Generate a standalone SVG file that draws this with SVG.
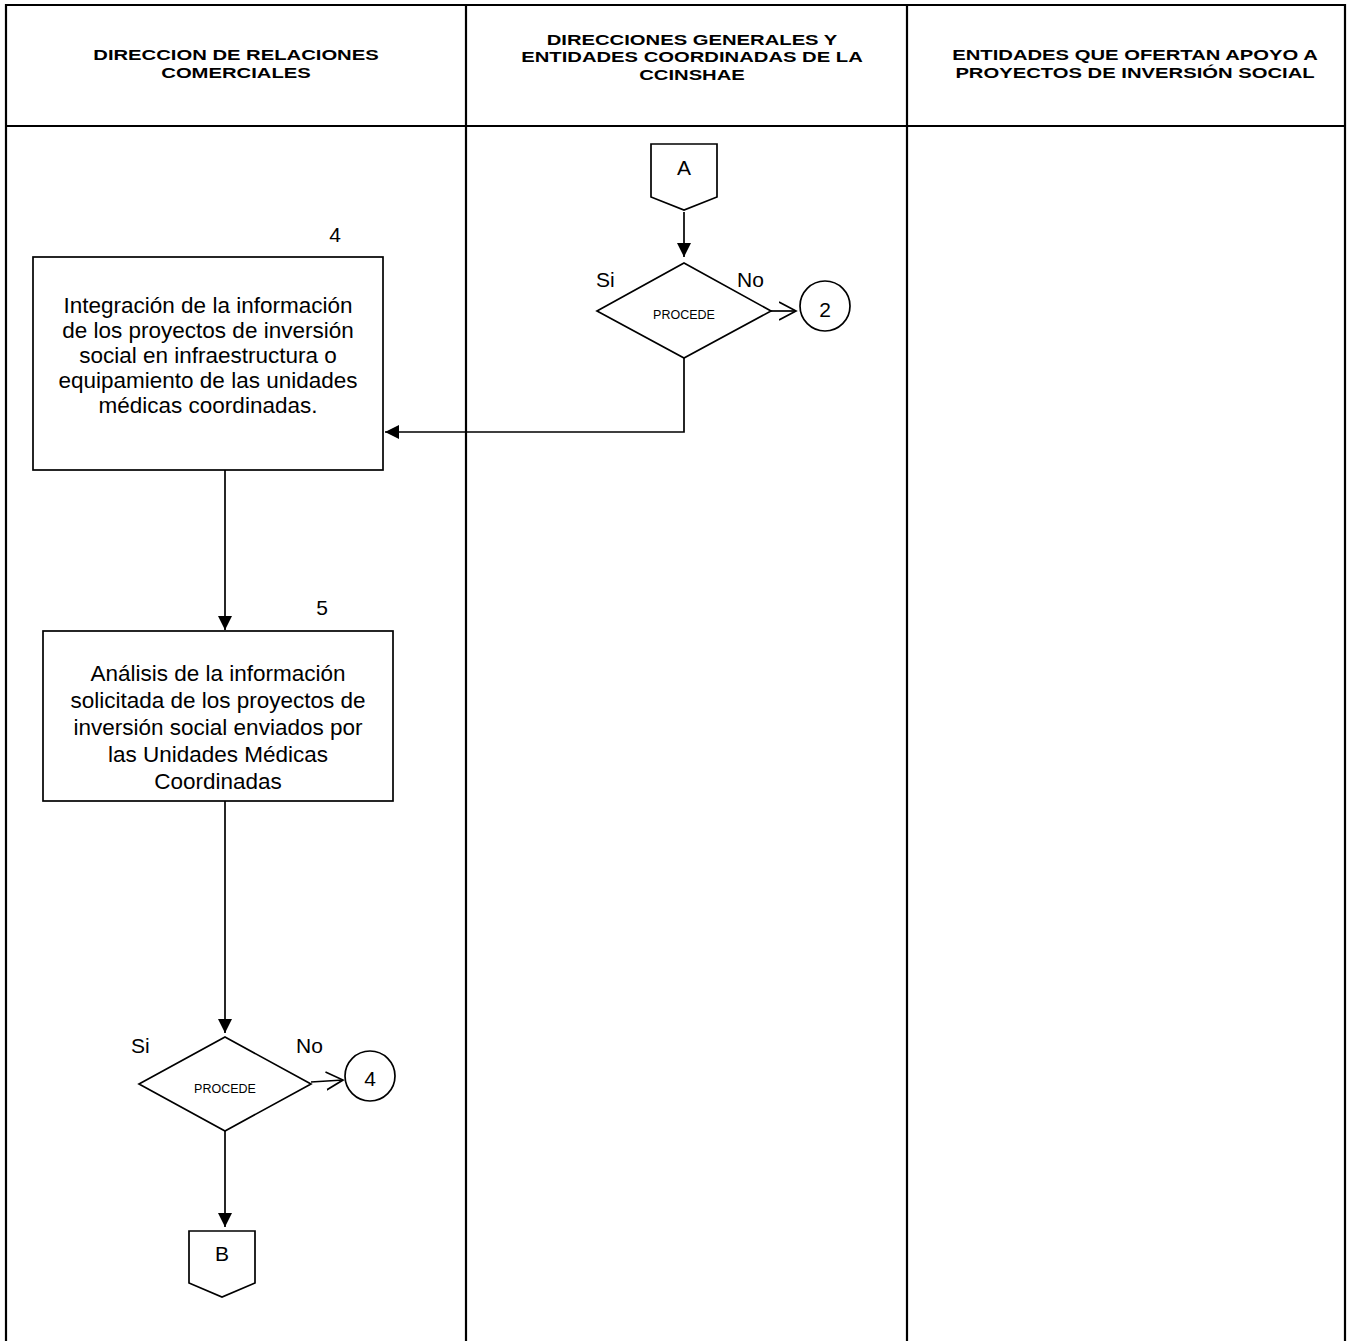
<svg xmlns="http://www.w3.org/2000/svg" width="1354" height="1341" viewBox="0 0 1354 1341">
<style>
.tbl{stroke:#000;stroke-width:2.2;fill:none}
.hd{font-family:"Liberation Sans",Arial,sans-serif;font-weight:bold;font-size:15px;text-anchor:middle;fill:#000}
.shape{fill:#fff;stroke:#000;stroke-width:1.7}
.txt{font-family:"Liberation Sans",Arial,sans-serif;font-size:22.5px;text-anchor:middle;fill:#000}
.lbl{font-family:"Liberation Sans",Arial,sans-serif;font-size:21px;fill:#000}
.small{font-family:"Liberation Sans",Arial,sans-serif;font-size:12.5px;text-anchor:middle;fill:#000}
.ln{stroke:#000;stroke-width:1.7;fill:none}
</style>
<defs>
<marker id="arr" markerWidth="15" markerHeight="15" refX="14" refY="7" orient="auto" markerUnits="userSpaceOnUse">
<path d="M0,0 L14,7 L0,14 Z" fill="#000"/>
</marker>
<marker id="open" markerWidth="20" markerHeight="22" refX="17" refY="10" orient="auto" markerUnits="userSpaceOnUse">
<path d="M0,1 L17,10 L0,19" fill="none" stroke="#000" stroke-width="1.7"/>
</marker>
</defs>
<rect width="1354" height="1341" fill="#fff"/>
<g id="table">
<path class="tbl" d="M6,1341 V5 H1345 V1341 M6,126 H1345 M466,5 V1341 M907,5 V1341"/>
<g transform="translate(236,0) scale(1.35,1)">
<text class="hd" x="0" y="60">DIRECCION DE RELACIONES</text>
<text class="hd" x="0" y="78">COMERCIALES</text>
</g>
<g transform="translate(692,0) scale(1.35,1)">
<text class="hd" x="0" y="45">DIRECCIONES GENERALES Y</text>
<text class="hd" x="0" y="62.5">ENTIDADES COORDINADAS DE LA</text>
<text class="hd" x="0" y="80">CCINSHAE</text>
</g>
<g transform="translate(1135,0) scale(1.35,1)">
<text class="hd" x="0" y="60">ENTIDADES QUE OFERTAN APOYO A</text>
<text class="hd" x="0" y="78">PROYECTOS DE INVERSIÓN SOCIAL</text>
</g>
</g>
<g id="connectors">
<line class="ln" x1="684" y1="212" x2="684" y2="257" marker-end="url(#arr)"/>
<line class="ln" x1="771" y1="311" x2="796" y2="311" marker-end="url(#open)"/>
<polyline class="ln" points="684,358 684,432 385,432" marker-end="url(#arr)"/>
<line class="ln" x1="225" y1="470" x2="225" y2="630" marker-end="url(#arr)"/>
<line class="ln" x1="225" y1="801" x2="225" y2="1033" marker-end="url(#arr)"/>
<line class="ln" x1="311" y1="1082" x2="343" y2="1080" marker-end="url(#open)"/>
<line class="ln" x1="225" y1="1131" x2="225" y2="1227" marker-end="url(#arr)"/>
</g>
<g id="connA">
<path class="shape" d="M651,144 H717 V197 L684,210 L651,197 Z"/>
<text class="lbl" x="684" y="175" text-anchor="middle" font-size="18">A</text>
</g>
<g id="dec1">
<path class="shape" d="M684,263 L771,311 L684,358 L597,311 Z"/>
<text class="small" x="684" y="319">PROCEDE</text>
<text class="lbl" x="596" y="287">Si</text>
<text class="lbl" x="737" y="287">No</text>
</g>
<g id="circ2">
<circle class="shape" cx="825" cy="306" r="25"/>
<text class="lbl" x="825" y="317" text-anchor="middle" font-size="20">2</text>
</g>
<g id="step4">
<rect class="shape" x="33" y="257" width="350" height="213"/>
<text class="lbl" x="335" y="242" text-anchor="middle" font-size="20">4</text>
<text class="txt" x="208" y="313">Integración de la información</text>
<text class="txt" x="208" y="338">de los proyectos de inversión</text>
<text class="txt" x="208" y="363">social en infraestructura o</text>
<text class="txt" x="208" y="388">equipamiento de las unidades</text>
<text class="txt" x="208" y="413">médicas coordinadas.</text>
</g>
<g id="step5">
<rect class="shape" x="43" y="631" width="350" height="170"/>
<text class="lbl" x="322" y="615" text-anchor="middle" font-size="20">5</text>
<text class="txt" x="218" y="681">Análisis de la información</text>
<text class="txt" x="218" y="708">solicitada de los proyectos de</text>
<text class="txt" x="218" y="735">inversión social enviados por</text>
<text class="txt" x="218" y="762">las Unidades Médicas</text>
<text class="txt" x="218" y="789">Coordinadas</text>
</g>
<g id="dec2">
<path class="shape" d="M225,1037 L311,1084 L225,1131 L139,1084 Z"/>
<text class="small" x="225" y="1093">PROCEDE</text>
<text class="lbl" x="131" y="1053">Si</text>
<text class="lbl" x="296" y="1053">No</text>
</g>
<g id="circ4">
<circle class="shape" cx="370" cy="1076" r="25"/>
<text class="lbl" x="370" y="1086" text-anchor="middle" font-size="20">4</text>
</g>
<g id="connB">
<path class="shape" d="M189,1231 H255 V1283 L222,1297 L189,1283 Z"/>
<text class="lbl" x="222" y="1261" text-anchor="middle" font-size="18">B</text>
</g>
</svg>
